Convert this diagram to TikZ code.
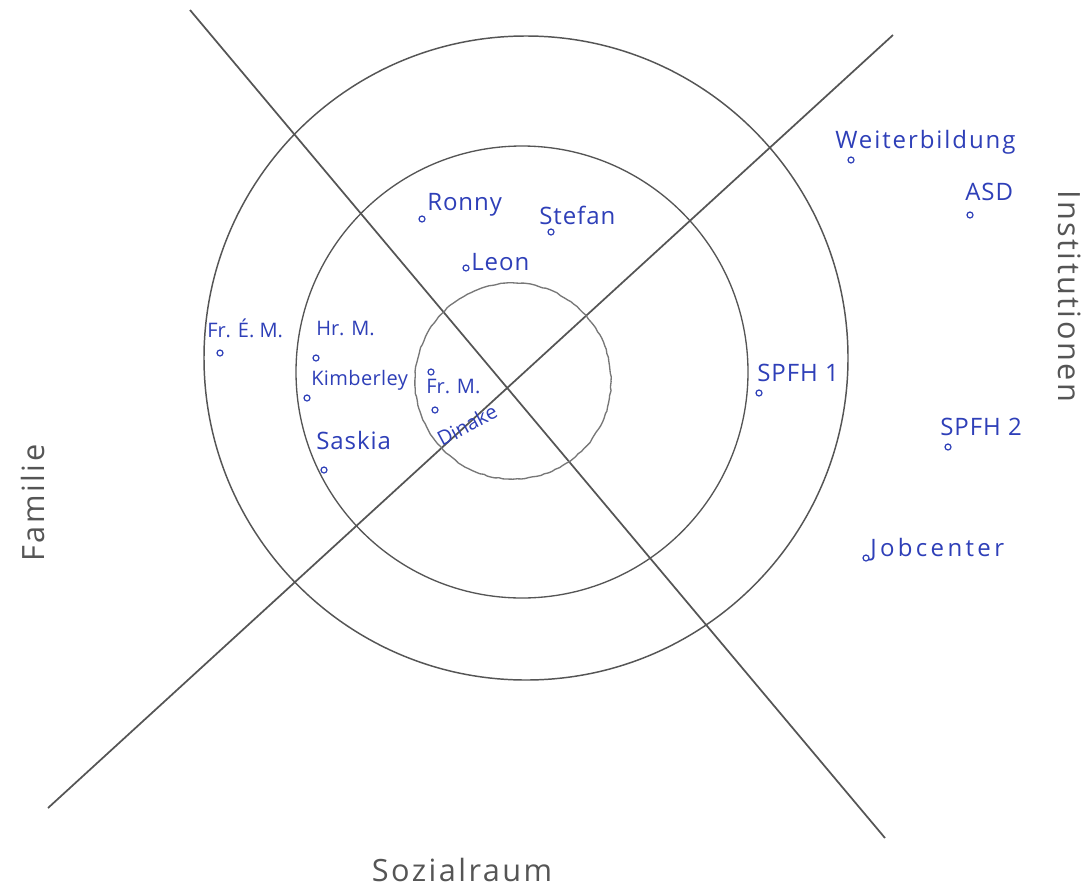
\documentclass[tikz,border=0pt]{standalone}
\usepackage{fontspec}
\setmainfont{Open Sans}
\usetikzlibrary{decorations.pathmorphing}
\definecolor{pencil}{HTML}{555555}
\definecolor{ink}{HTML}{2E3FB8}
\tikzset{
  axisline/.style={draw=pencil, line width=1.3pt},
  ringline/.style={draw=pencil, line width=1.1pt},
  innerring/.style={draw=pencil!80, line width=1pt, decorate, decoration={random steps, segment length=3pt, amplitude=0.4pt}},
  persondot/.style={circle, draw=ink, line width=0.9pt, inner sep=0pt, minimum size=4.5pt},
  pname/.style={text=ink, font=\fontsize{18}{20}\selectfont\addfontfeatures{LetterSpace=4}, inner sep=0pt, anchor=base west},
  smallname/.style={pname, font=\fontsize{15}{17}\selectfont},
  sectorlabel/.style={text=pencil, font=\fontsize{23}{25}\selectfont\addfontfeatures{LetterSpace=8}, inner sep=0pt}
}
\begin{document}
\begin{tikzpicture}[x=0.75pt,y=-0.75pt]
\fill[white] (0,0) rectangle (1091,889);
\useasboundingbox (0,0) rectangle (1091,889);

% crossing lines
\coordinate (l1a) at (190,10);
\coordinate (l1b) at (885,838);
\coordinate (l2a) at (48,808);
\coordinate (l2b) at (893,35);
\draw[axisline] (l1a) -- (l1b);
\draw[axisline] (l2a) -- (l2b);

% rings
\coordinate (cOuter) at (526,358);
\coordinate (cMid) at (522,372);
\coordinate (cIn) at (513,381);
\draw[ringline] (cOuter) circle [radius=241.5pt];
\draw[ringline, line width=1pt] (cMid) circle [radius=169.5pt];
\draw[innerring] (cIn) circle [radius=73.5pt];

% persons (dots + names)
\node[persondot] (dRonny) at (422,219) {};
\node[pname] (tRonny) at (427,210) {Ronny};
\node[persondot] (dStefan) at (551,232) {};
\node[pname] (tStefan) at (539,224) {Stefan};
\node[persondot] (dLeon) at (466,268) {};
\node[pname] (tLeon) at (471,270) {Leon};
\node[persondot] (dFrEM) at (220,353) {};
\node[smallname] (tFrEM) at (207,337) {Fr. É. M.};
\node[persondot] (dHrM) at (316,358) {};
\node[smallname] (tHrM) at (316,335) {Hr. M.};
\node[persondot] (dKim) at (307,398) {};
\node[smallname, font=\fontsize{15}{17}\selectfont\addfontfeatures{LetterSpace=2}] (tKim) at (311,385) {Kimberley};
\node[persondot] (dFrM) at (431,372) {};
\node[smallname] (tFrM) at (426,393) {Fr. M.};
\node[persondot] (dDin) at (435,410) {};
\node[smallname, rotate=28] (tDin) at (442,447) {Dinake};
\node[persondot] (dSaskia) at (324,470) {};
\node[pname] (tSaskia) at (316,449) {Saskia};
\node[persondot] (dWeiter) at (851,160) {};
\node[pname, font=\fontsize{18}{20}\selectfont\addfontfeatures{LetterSpace=8}] (tWeiter) at (835,148) {Weiterbildung};
\node[persondot] (dASD) at (970,215) {};
\node[pname] (tASD) at (965,200) {ASD};
\node[persondot] (dSPFH1) at (759,393) {};
\node[pname] (tSPFH1) at (757,381) {SPFH 1};
\node[persondot] (dSPFH2) at (948,447) {};
\node[pname] (tSPFH2) at (940,435) {SPFH 2};
\node[persondot] (dJob) at (866,558) {};
\node[pname, font=\fontsize{18}{20}\selectfont\addfontfeatures{LetterSpace=14}] (tJob) at (870,556) {Jobcenter};

% sector labels
\node[sectorlabel, rotate=90] (lFam) at (33,503) {Familie};
\node[sectorlabel, rotate=-90] (lInst) at (1070,296) {Institutionen};
\node[sectorlabel] (lSoz) at (462,870) {Sozialraum};
\end{tikzpicture}
\end{document}
